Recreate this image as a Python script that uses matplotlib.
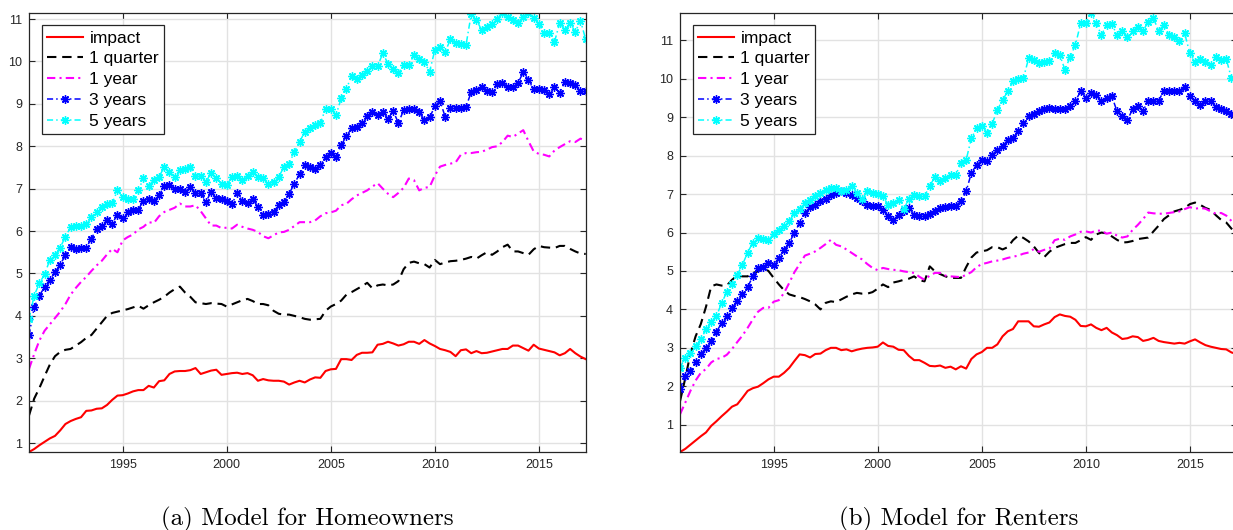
import numpy as np
import matplotlib
matplotlib.use('Agg')
import matplotlib.pyplot as plt

plt.rcParams['font.family'] = ['Liberation Sans', 'DejaVu Sans']

# quarterly sample dates, 1990Q3 .. 2017Q2
quarters = 1990.5 + 0.25 * np.arange(108)

labels = ['impact', '1 quarter', '1 year', '3 years', '5 years']

# ---- homeowners ----
own_impact = [
    0.79, 0.86, 0.95, 1.03, 1.11, 1.17, 1.30, 1.45, 1.52, 1.57, 1.61, 1.76,
    1.77, 1.81, 1.82, 1.90, 2.02, 2.12, 2.13, 2.17, 2.22, 2.25, 2.25, 2.35,
    2.31, 2.46, 2.48, 2.63, 2.69, 2.70, 2.70, 2.72, 2.77, 2.63, 2.67, 2.71,
    2.73, 2.61, 2.63, 2.65, 2.66, 2.63, 2.65, 2.60, 2.47, 2.51, 2.48, 2.47,
    2.47, 2.45, 2.38, 2.43, 2.47, 2.43, 2.50, 2.55, 2.54, 2.70, 2.74, 2.75,
    2.98, 2.98, 2.96, 3.08, 3.13, 3.13, 3.14, 3.32, 3.34, 3.39, 3.35, 3.30,
    3.33, 3.39, 3.39, 3.34, 3.43, 3.35, 3.29, 3.22, 3.19, 3.15, 3.05, 3.19,
    3.21, 3.12, 3.17, 3.12, 3.13, 3.16, 3.19, 3.22, 3.22, 3.30, 3.30, 3.24,
    3.18, 3.32, 3.23, 3.20, 3.17, 3.14, 3.07, 3.12, 3.22, 3.12, 3.04, 2.98]
own_1q = [
    1.65, 2.05, 2.30, 2.58, 2.85, 3.05, 3.15, 3.20, 3.22, 3.30, 3.38, 3.48,
    3.55, 3.70, 3.85, 4.00, 4.07, 4.10, 4.13, 4.16, 4.20, 4.24, 4.17, 4.25,
    4.32, 4.38, 4.45, 4.55, 4.63, 4.69, 4.55, 4.45, 4.32, 4.30, 4.28, 4.30,
    4.29, 4.28, 4.22, 4.27, 4.32, 4.37, 4.40, 4.35, 4.28, 4.28, 4.25, 4.12,
    4.05, 4.03, 4.03, 4.00, 3.97, 3.93, 3.91, 3.92, 3.93, 4.12, 4.22, 4.28,
    4.36, 4.50, 4.56, 4.63, 4.70, 4.78, 4.65, 4.72, 4.74, 4.72, 4.74, 4.82,
    5.10, 5.25, 5.28, 5.24, 5.22, 5.14, 5.32, 5.22, 5.26, 5.29, 5.30, 5.32,
    5.35, 5.39, 5.35, 5.43, 5.50, 5.44, 5.52, 5.62, 5.68, 5.52, 5.52, 5.48,
    5.44, 5.57, 5.65, 5.62, 5.61, 5.60, 5.65, 5.65, 5.58, 5.52, 5.47, 5.46]
own_1y = [
    2.75, 3.10, 3.42, 3.65, 3.80, 3.95, 4.10, 4.28, 4.50, 4.66, 4.80, 4.92,
    5.06, 5.19, 5.30, 5.45, 5.58, 5.50, 5.78, 5.86, 5.92, 6.04, 6.10, 6.21,
    6.19, 6.35, 6.45, 6.50, 6.55, 6.65, 6.58, 6.58, 6.61, 6.47, 6.30, 6.13,
    6.13, 6.07, 6.08, 6.06, 6.15, 6.10, 6.06, 6.03, 5.98, 5.88, 5.83, 5.90,
    5.97, 5.98, 6.03, 6.12, 6.21, 6.21, 6.21, 6.25, 6.35, 6.42, 6.44, 6.48,
    6.61, 6.64, 6.75, 6.84, 6.90, 6.96, 7.05, 7.13, 7.00, 6.88, 6.80, 6.90,
    7.02, 7.24, 7.20, 6.96, 7.02, 7.04, 7.31, 7.52, 7.56, 7.59, 7.62, 7.80,
    7.84, 7.84, 7.86, 7.87, 7.92, 7.98, 8.00, 8.10, 8.25, 8.22, 8.30, 8.38,
    8.12, 7.88, 7.82, 7.80, 7.76, 7.90, 7.98, 8.05, 8.12, 8.10, 8.18, 8.13]
own_3y = [
    3.54, 4.20, 4.48, 4.68, 4.85, 5.03, 5.21, 5.43, 5.62, 5.58, 5.61, 5.61,
    5.82, 6.06, 6.13, 6.25, 6.17, 6.39, 6.31, 6.45, 6.49, 6.50, 6.72, 6.76,
    6.72, 6.84, 7.06, 7.08, 7.00, 7.00, 6.92, 7.04, 6.90, 6.90, 6.69, 6.92,
    6.78, 6.76, 6.72, 6.63, 6.90, 6.71, 6.66, 6.76, 6.57, 6.37, 6.41, 6.46,
    6.61, 6.69, 6.88, 7.12, 7.34, 7.55, 7.51, 7.47, 7.55, 7.75, 7.83, 7.75,
    8.02, 8.24, 8.42, 8.46, 8.54, 8.71, 8.81, 8.73, 8.81, 8.65, 8.83, 8.55,
    8.85, 8.87, 8.89, 8.81, 8.61, 8.68, 8.94, 9.07, 8.69, 8.91, 8.91, 8.91,
    8.93, 9.28, 9.32, 9.39, 9.31, 9.28, 9.46, 9.49, 9.39, 9.39, 9.49, 9.75,
    9.56, 9.34, 9.34, 9.32, 9.24, 9.39, 9.26, 9.52, 9.49, 9.44, 9.31, 9.31]
own_5y = [
    3.93, 4.48, 4.77, 4.98, 5.32, 5.43, 5.61, 5.87, 6.09, 6.13, 6.13, 6.17,
    6.33, 6.45, 6.57, 6.65, 6.66, 6.96, 6.80, 6.76, 6.76, 6.96, 7.24, 7.06,
    7.21, 7.28, 7.51, 7.39, 7.28, 7.43, 7.47, 7.51, 7.29, 7.29, 7.16, 7.37,
    7.24, 7.12, 7.08, 7.28, 7.31, 7.21, 7.29, 7.39, 7.28, 7.24, 7.12, 7.16,
    7.28, 7.51, 7.59, 7.87, 8.10, 8.34, 8.44, 8.50, 8.54, 8.89, 8.89, 8.73,
    9.13, 9.36, 9.65, 9.58, 9.68, 9.78, 9.89, 9.89, 10.19, 9.95, 9.83, 9.72,
    9.92, 9.92, 10.15, 10.05, 9.98, 9.76, 10.27, 10.33, 10.23, 10.52, 10.43, 10.41,
    10.39, 11.12, 10.98, 10.74, 10.82, 10.89, 11.00, 11.15, 11.06, 10.98, 10.90, 11.06,
    11.15, 11.02, 10.89, 10.68, 10.68, 10.46, 10.91, 10.74, 10.90, 10.70, 10.96, 10.52]

# ---- renters ----
rent_impact = [
    0.29, 0.37, 0.48, 0.59, 0.70, 0.80, 0.97, 1.09, 1.22, 1.34, 1.47, 1.53,
    1.70, 1.88, 1.95, 1.99, 2.08, 2.18, 2.25, 2.25, 2.35, 2.48, 2.66, 2.83,
    2.81, 2.75, 2.84, 2.85, 2.94, 3.00, 3.00, 2.94, 2.96, 2.91, 2.95, 2.98,
    3.00, 3.01, 3.03, 3.14, 3.05, 3.03, 2.95, 2.94, 2.79, 2.68, 2.68, 2.61,
    2.53, 2.52, 2.54, 2.48, 2.51, 2.44, 2.52, 2.46, 2.71, 2.83, 2.89, 3.00,
    3.00, 3.09, 3.30, 3.43, 3.49, 3.69, 3.69, 3.69, 3.56, 3.55, 3.61, 3.66,
    3.80, 3.87, 3.83, 3.81, 3.73, 3.57, 3.56, 3.61, 3.52, 3.46, 3.52, 3.40,
    3.33, 3.23, 3.25, 3.30, 3.28, 3.18, 3.21, 3.26, 3.18, 3.15, 3.13, 3.11,
    3.13, 3.11, 3.17, 3.22, 3.14, 3.07, 3.03, 3.00, 2.97, 2.96, 2.88, 2.84]
rent_1q = [
    1.61, 2.20, 2.85, 3.30, 3.62, 4.07, 4.60, 4.65, 4.62, 4.62, 4.77, 4.88,
    4.86, 4.86, 4.95, 4.99, 5.08, 5.00, 4.82, 4.65, 4.50, 4.39, 4.35, 4.32,
    4.27, 4.21, 4.13, 4.00, 4.17, 4.21, 4.19, 4.26, 4.33, 4.39, 4.43, 4.41,
    4.41, 4.45, 4.54, 4.65, 4.58, 4.70, 4.73, 4.77, 4.80, 4.86, 4.76, 4.73,
    5.12, 4.99, 4.92, 4.86, 4.82, 4.82, 4.82, 5.10, 5.35, 5.48, 5.51, 5.54,
    5.62, 5.62, 5.56, 5.62, 5.80, 5.92, 5.86, 5.77, 5.64, 5.47, 5.36, 5.50,
    5.60, 5.65, 5.70, 5.73, 5.73, 5.80, 5.88, 5.81, 5.95, 6.00, 5.98, 5.90,
    5.81, 5.74, 5.75, 5.78, 5.83, 5.85, 5.87, 6.03, 6.18, 6.35, 6.45, 6.55,
    6.59, 6.64, 6.74, 6.78, 6.72, 6.64, 6.59, 6.45, 6.33, 6.26, 6.10, 5.95]
rent_1y = [
    1.27, 1.57, 1.88, 2.15, 2.35, 2.45, 2.62, 2.71, 2.74, 2.82, 2.97, 3.15,
    3.32, 3.52, 3.74, 3.94, 4.04, 4.04, 4.20, 4.24, 4.43, 4.69, 4.97, 5.18,
    5.40, 5.45, 5.51, 5.60, 5.70, 5.81, 5.68, 5.64, 5.56, 5.47, 5.38, 5.30,
    5.18, 5.08, 5.02, 5.08, 5.05, 5.03, 5.02, 4.99, 4.97, 4.95, 4.85, 4.77,
    4.88, 4.95, 4.95, 4.88, 4.86, 4.85, 4.84, 4.90, 4.97, 5.10, 5.18, 5.21,
    5.25, 5.27, 5.30, 5.34, 5.37, 5.40, 5.45, 5.48, 5.57, 5.50, 5.55, 5.58,
    5.80, 5.84, 5.81, 5.90, 5.95, 6.02, 6.03, 6.00, 6.05, 6.05, 5.97, 6.00,
    5.92, 5.87, 5.90, 6.07, 6.20, 6.35, 6.52, 6.50, 6.49, 6.49, 6.51, 6.53,
    6.55, 6.61, 6.66, 6.62, 6.64, 6.62, 6.55, 6.49, 6.51, 6.44, 6.30, 6.25]
rent_3y = [
    1.94, 2.26, 2.39, 2.63, 2.83, 3.00, 3.17, 3.41, 3.65, 3.82, 4.04, 4.21,
    4.39, 4.58, 4.86, 5.08, 5.10, 5.21, 5.16, 5.34, 5.55, 5.73, 6.00, 6.25,
    6.52, 6.66, 6.72, 6.81, 6.87, 6.98, 7.04, 7.07, 7.04, 6.98, 6.90, 6.81,
    6.72, 6.68, 6.70, 6.59, 6.44, 6.33, 6.46, 6.55, 6.64, 6.46, 6.44, 6.44,
    6.49, 6.55, 6.64, 6.66, 6.68, 6.70, 6.81, 7.07, 7.55, 7.76, 7.89, 7.85,
    8.02, 8.15, 8.24, 8.41, 8.45, 8.65, 8.84, 9.03, 9.09, 9.15, 9.21, 9.25,
    9.21, 9.21, 9.21, 9.28, 9.43, 9.67, 9.49, 9.62, 9.58, 9.41, 9.49, 9.55,
    9.15, 9.02, 8.93, 9.21, 9.28, 9.17, 9.43, 9.43, 9.43, 9.69, 9.69, 9.67,
    9.67, 9.78, 9.55, 9.41, 9.32, 9.43, 9.43, 9.26, 9.21, 9.15, 9.08, 8.98]
rent_5y = [
    2.48, 2.74, 2.87, 3.04, 3.22, 3.48, 3.67, 3.82, 4.17, 4.45, 4.67, 4.90,
    5.16, 5.48, 5.74, 5.86, 5.83, 5.80, 5.97, 6.07, 6.16, 6.29, 6.51, 6.61,
    6.77, 6.85, 6.94, 7.03, 7.11, 7.16, 7.16, 7.07, 7.11, 7.20, 7.03, 6.87,
    7.07, 7.04, 7.00, 6.94, 6.72, 6.78, 6.84, 6.61, 6.87, 6.98, 6.94, 6.94,
    7.22, 7.44, 7.33, 7.42, 7.50, 7.50, 7.81, 7.89, 8.45, 8.71, 8.76, 8.60,
    8.83, 9.19, 9.45, 9.67, 9.93, 9.99, 10.01, 10.53, 10.49, 10.42, 10.45, 10.47,
    10.66, 10.62, 10.23, 10.58, 10.88, 11.44, 11.44, 11.72, 11.44, 11.14, 11.40, 11.42,
    11.14, 11.25, 11.09, 11.25, 11.35, 11.25, 11.48, 11.57, 11.25, 11.40, 11.14, 11.09,
    10.99, 11.18, 10.66, 10.45, 10.51, 10.45, 10.36, 10.56, 10.49, 10.51, 10.01, 9.95]

# line styles for the five horizons (MATLAB-like)
dashdot = (0, (4, 2, 1, 2))
styles = [
    dict(color='red', ls='-', lw=1.5),
    dict(color='black', ls=(0, (4.5, 2.8)), lw=1.5),
    dict(color='magenta', ls=dashdot, lw=1.5),
    dict(color='blue', ls=dashdot, lw=1.1, marker=(8, 2, 0), ms=6, mew=1.0),
    dict(color='cyan', ls=dashdot, lw=1.1, marker=(8, 2, 0), ms=6, mew=1.0),
]

W, H = 1233, 530
fig = plt.figure(figsize=(W / 100, H / 100), dpi=100)

ax_w, ax_h = 556.7 / W, 439.3 / H
ax_b = 78 / H
ax_own = fig.add_axes([29 / W, ax_b, ax_w, ax_h])
ax_rent = fig.add_axes([680 / W, ax_b, ax_w, ax_h])


def draw_panel(ax, series, ylim):
    for y, lab, st in zip(series, labels, styles):
        ax.plot(quarters, y, label=lab, **st)
    ax.set_xlim(1990.5, 2017.25)
    ax.set_ylim(*ylim)
    ax.set_xticks([1995, 2000, 2005, 2010, 2015])
    ax.set_yticks(range(1, 12))
    ax.grid(True, color='#e2e2e2', lw=1.0)
    ax.set_axisbelow(True)
    ax.tick_params(direction='in', length=4, width=0.8, top=True, right=True,
                   labelsize=9, colors='#262626', pad=5)
    for sp in ax.spines.values():
        sp.set_color('#262626')
        sp.set_linewidth(0.9)
    leg = ax.legend(loc='upper left',
                    bbox_to_anchor=(12.7 / 556.7, 1 - 12.7 / 439.3),
                    borderaxespad=0, fontsize=12.5, fancybox=False,
                    edgecolor='#262626', framealpha=1, numpoints=1,
                    handlelength=2.1, handletextpad=0.35,
                    labelspacing=0.32, borderpad=0.3)
    leg.get_frame().set_linewidth(0.9)


draw_panel(ax_own, [own_impact, own_1q, own_1y, own_3y, own_5y], (0.79, 11.15))
draw_panel(ax_rent, [rent_impact, rent_1q, rent_1y, rent_3y, rent_5y], (0.29, 11.72))

fig.text((29 + 556.7 / 2) / W, 4.5 / H, '(a) Model for Homeowners',
         family='cmr10', fontsize=18, ha='center', va='baseline')
fig.text((680 + 556.7 / 2) / W, 4.5 / H, '(b) Model for Renters',
         family='cmr10', fontsize=18, ha='center', va='baseline')

fig.savefig('out.png', dpi=100)
